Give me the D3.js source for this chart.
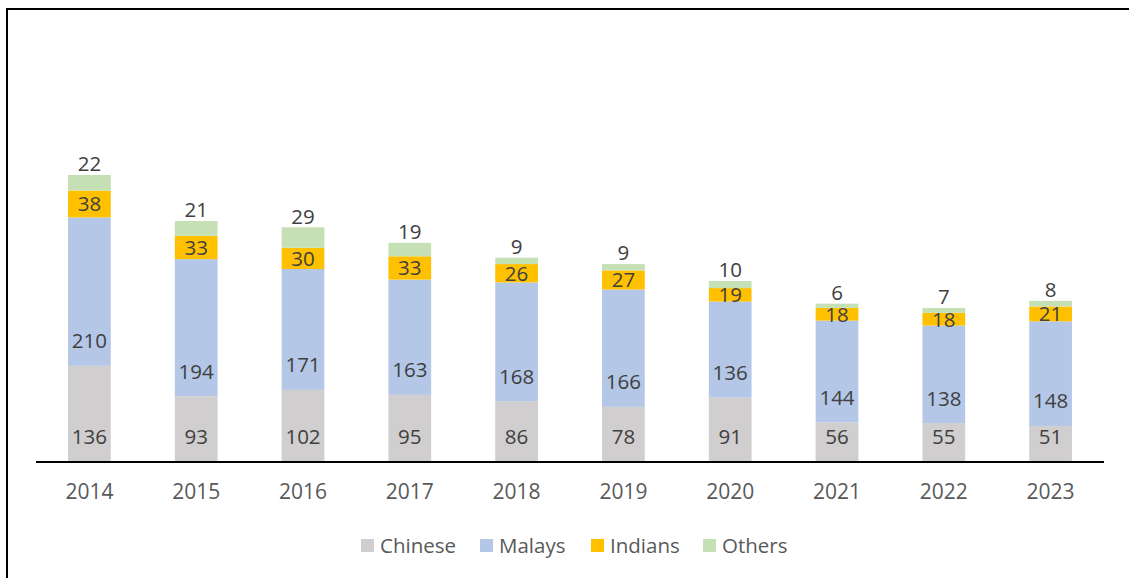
<!DOCTYPE html>
<html><head><meta charset="utf-8">
<script src="https://cdn.jsdelivr.net/npm/d3@7"></script>
<style>body{margin:0;background:#fff}svg{display:block}text{font-family:"Open Sans",sans-serif}</style>
</head><body>
<script>
const years = ["2014","2015","2016","2017","2018","2019","2020","2021","2022","2023"];
const chinese = [136,93,102,95,86,78,91,56,55,51];
const malays = [210,194,171,163,168,166,136,144,138,148];
const indians = [38,33,30,33,26,27,19,18,18,21];
const others = [22,21,29,19,9,9,10,6,7,8];
const seriesNames = ["Chinese","Malays","Indians","Others"];
const colors = ["#D0CECE","#B4C7E7","#FFC000","#C5E0B4"];

const W=1129,H=578;
const svg=d3.select("body").append("svg").attr("width",W).attr("height",H);
// outer frame
svg.append("rect").attr("x",7).attr("y",9).attr("width",W+20).attr("height",H+20)
  .attr("fill","none").attr("stroke","#000").attr("stroke-width",2);

const rows = years.map((y,i)=>({year:y,Chinese:chinese[i],Malays:malays[i],Indians:indians[i],Others:others[i]}));
const stack = d3.stack().keys(seriesNames)(rows);

const x=d3.scaleBand().domain(years).range([36,1104]).paddingInner(0.6).paddingOuter(0.3);
const y=d3.scaleLinear().domain([0,406]).range([462,175]);

stack.forEach((s,si)=>{
  const g=svg.append("g");
  g.selectAll("rect").data(s).join("rect")
    .attr("x",d=>x(d.data.year)).attr("width",x.bandwidth())
    .attr("y",d=>y(d[1])).attr("height",d=>y(d[0])-y(d[1]))
    .attr("fill",colors[si]);
});
// labels
stack.forEach((s,si)=>{
  const key=seriesNames[si];
  svg.append("g").selectAll("text").data(s).join("text")
    .attr("x",d=>x(d.data.year)+x.bandwidth()/2)
    .attr("y",d=>{
      if(si<2) return y(d[0])-25;
      if(si===2) return (y(d[0])+y(d[1]))/2;
      return y(d[1])-11;
    })
    .attr("dy","0.36em")
    .attr("text-anchor","middle").attr("font-size",20.5).attr("fill","#404040")
    .text(d=>d.data[key]);
});

// axis
const ax=svg.append("g").attr("transform","translate(0,462)")
  .call(d3.axisBottom(x).tickSize(0).tickPadding(24));
ax.select(".domain").attr("stroke","#000").attr("stroke-width",2).attr("d","M36,0H1104");
ax.selectAll("text").attr("font-size",21).attr("fill","#595959").attr("font-family","Open Sans").attr("dy","0.6em");

// legend
const legX=[361,480,591,703];
const lg=svg.append("g");
seriesNames.forEach((n,i)=>{
  lg.append("rect").attr("x",legX[i]).attr("y",539).attr("width",13).attr("height",13).attr("fill",colors[i]);
  lg.append("text").attr("x",legX[i]+19).attr("y",546).attr("dy","0.36em")
    .attr("font-size",20.5).attr("fill","#595959").text(n);
});
</script>
</body></html>
